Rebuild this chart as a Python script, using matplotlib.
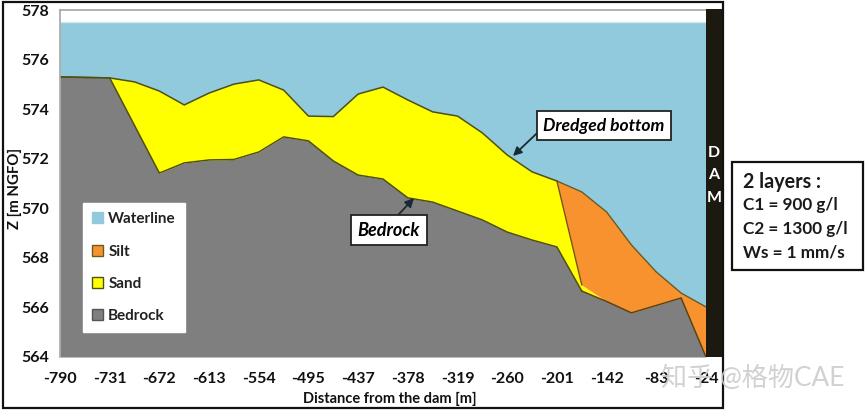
import numpy as np
import matplotlib
matplotlib.use("Agg")
import matplotlib.pyplot as plt
from matplotlib.patches import Rectangle, Patch

plt.rcParams['font.family'] = ['Lato', 'Noto Sans CJK SC', 'DejaVu Sans']

tick_labels = ["-790", "-731", "-672", "-613", "-554", "-495", "-437",
               "-378", "-319", "-260", "-201", "-142", "-83", "-24"]

# survey points sit every half tick, so 27 values along the profile
bedrock = [575.30, 575.28, 575.26, 573.34, 571.42, 571.83, 571.95, 571.97, 572.27,
           572.88, 572.72, 571.91, 571.34, 571.18, 570.42, 570.25, 569.89, 569.53,
           569.04, 568.72, 568.44, 566.66, 566.24, 565.78, 566.08, 566.38, 564.00]
sand_top = [575.30, 575.28, 575.26, 575.10, 574.73, 574.17, 574.65, 575.01, 575.18,
            574.77, 573.72, 573.70, 574.61, 574.89, 574.37, 573.89, 573.72, 573.04,
            572.15, 571.47, 571.10, 566.91, 566.24, 565.78, 566.08, 566.38, 564.00]
silt_top = [575.30, 575.28, 575.26, 575.10, 574.73, 574.17, 574.65, 575.01, 575.18,
            574.77, 573.72, 573.70, 574.61, 574.89, 574.37, 573.89, 573.72, 573.04,
            572.15, 571.47, 571.10, 570.66, 569.85, 568.52, 567.43, 566.58, 566.02]
waterline = [577.5] * 27

GREY = "#7f7f7f"
YELLOW = "#ffff00"
ORANGE = "#f7922e"
WATER = "#90cadc"
W, H = 865, 412


def fx(px):
    return px / W


def fy(py):
    return 1 - py / H


def add_box(x0, y0, x1, y1, **kw):
    fig.add_artist(Rectangle((fx(x0), fy(y1)), (x1 - x0) / W, (y1 - y0) / H,
                             transform=fig.transFigure, **kw))


fig = plt.figure(figsize=(W / 100, H / 100), dpi=100)
ax = fig.add_axes([fx(60), fy(357), (706 - 60) / W, (357 - 10) / H])

x = np.arange(len(bedrock))
ax.fill_between(x, 564, bedrock, color=GREY, lw=0)
ax.fill_between(x, bedrock, sand_top, color=YELLOW, lw=0)
ax.fill_between(x, sand_top, silt_top, color=ORANGE, lw=0)
ax.fill_between(x, silt_top, waterline, color=WATER, lw=0)
ax.plot(x, waterline, color="#cfe6ee", lw=1.0)
ax.plot(x[:21], sand_top[:21], color="#4f5016", lw=1.1)
ax.plot(x[:22], bedrock[:22], color="#4f5016", lw=1.1)
ax.plot(x[20:], silt_top[20:], color="#6b5a20", lw=1.0)
ax.plot(x[20:22], sand_top[20:22], color="#7a4f18", lw=1.0)
ax.plot(x[21:], bedrock[21:], color="#5e4214", lw=1.1)

ax.set_xlim(0, 26)
ax.set_ylim(564, 578)
ax.set_xticks(x[::2])
ax.set_xticklabels(tick_labels, fontsize=11.5, fontweight="bold", color="#111111")
ax.set_yticks(np.arange(564, 579, 2))
ax.tick_params(axis="x", length=0, pad=11)
ax.tick_params(axis="y", length=0, labelsize=11.5, labelcolor="#111111", pad=8)
for t in ax.get_yticklabels():
    t.set_fontweight("bold")
for side in ["right", "bottom"]:
    ax.spines[side].set_visible(False)
for side in ["left", "top"]:
    ax.spines[side].set_color("#a6a6a6")
    ax.spines[side].set_linewidth(1.2)

fig.text(fx(15), fy(188), "Z [m NGFO]", rotation=90, ha="center", va="center",
         fontsize=10.8, fontweight="bold", color="#111111")
fig.text(fx(390), fy(399), "Distance from the dam [m]", ha="center", va="center",
         fontsize=10.5, fontweight="bold", color="#111111")

handles = [Patch(facecolor=WATER, edgecolor=WATER, label="Waterline"),
           Patch(facecolor=ORANGE, edgecolor="#6b5a20", label="Silt"),
           Patch(facecolor=YELLOW, edgecolor="#4f5016", label="Sand"),
           Patch(facecolor=GREY, edgecolor="#555555", label="Bedrock")]
leg = ax.legend(handles=handles, loc="upper left",
                bbox_to_anchor=(fx(83), fy(203)), bbox_transform=fig.transFigure,
                fancybox=False, framealpha=1, edgecolor="white", borderaxespad=0,
                fontsize=11, handlelength=0.7, handleheight=0.7, handletextpad=0.35,
                labelspacing=1.2, borderpad=0.6)
for t in leg.get_texts():
    t.set_fontweight("bold")
    t.set_color("#222222")

# dam wall and frames
add_box(706, 9, 723, 357, facecolor="#1c1a10", edgecolor="none", zorder=5)
for label, py in zip("DAM", [153, 175, 198]):
    fig.text(fx(714), fy(py), label, color="white", ha="center", va="center",
             fontsize=11.5, fontweight="bold", zorder=6)
add_box(3, 2, 723, 408, facecolor="none", edgecolor="#111111", lw=1.6, zorder=6)
add_box(732, 162, 863, 270, facecolor="white", edgecolor="#111111", lw=1.6, zorder=6)

for label, py, size in [("2 layers :", 182, 14.2), ("C1 = 900 g/l", 205, 12.3),
                        ("C2 = 1300 g/l", 229, 12.3), ("Ws = 1 mm/s", 253, 12.3)]:
    fig.text(fx(743), fy(py), label, ha="left", va="center", fontsize=size,
             fontweight="bold", color="#1a1a1a", zorder=7)

box_style = dict(boxstyle="square,pad=0.35", facecolor="white", edgecolor="#222222", lw=1.3)
ax.annotate("Dredged bottom", xy=(513, H - 156), xytext=(604, H - 125.5),
            xycoords="figure pixels", textcoords="figure pixels", ha="center", va="center",
            fontsize=12.6, fontweight="bold", fontstyle="italic", bbox=box_style,
            arrowprops=dict(arrowstyle="-|>", color="#1a2a33", lw=1.3, shrinkA=0, shrinkB=0,
                            relpos=(0, 0.4)), zorder=8)
ax.annotate("Bedrock", xy=(414, H - 198), xytext=(389, H - 230),
            xycoords="figure pixels", textcoords="figure pixels", ha="center", va="center",
            fontsize=13, fontweight="bold", fontstyle="italic", bbox=box_style,
            arrowprops=dict(arrowstyle="-|>", color="#1a2a33", lw=1.3, shrinkA=0, shrinkB=0,
                            relpos=(0.55, 1)), zorder=8)

fig.text(fx(753), fy(378), "知乎 @格物CAE", ha="center", va="center", fontsize=18.8,
         color="#cccccc", alpha=0.9, zorder=9)

fig.savefig("out.png", dpi=100)
